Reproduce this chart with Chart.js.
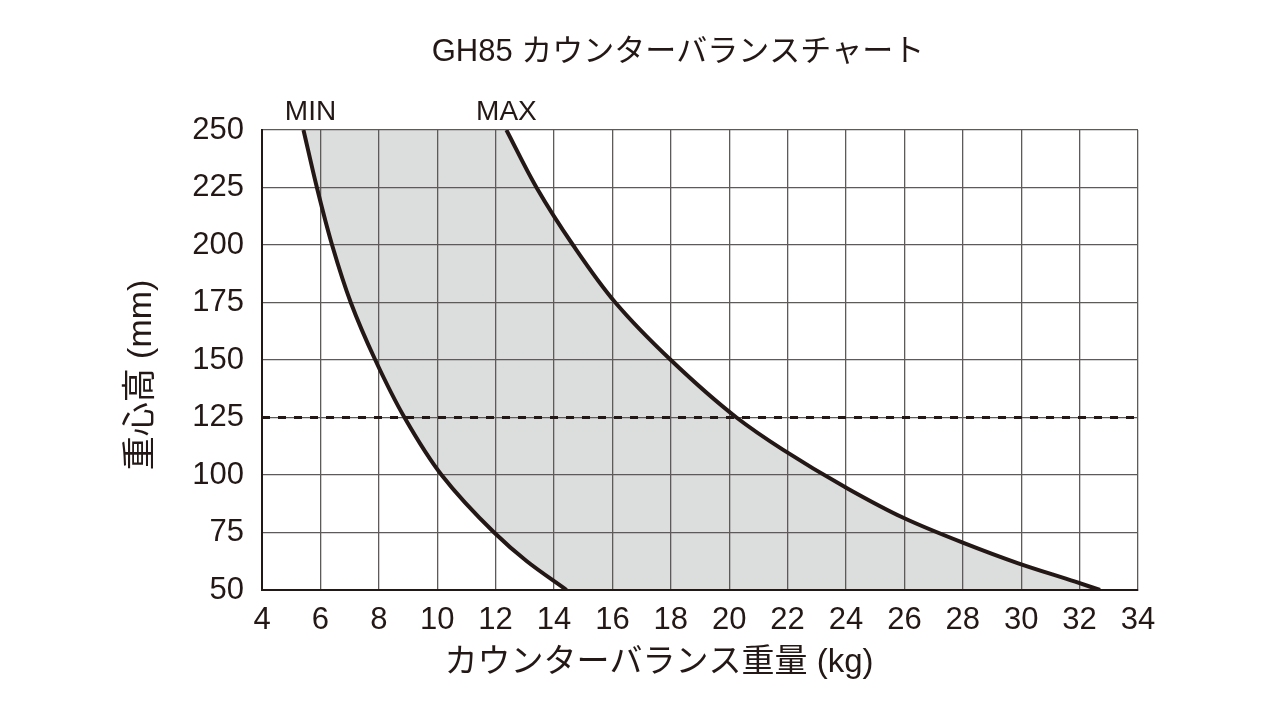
<!DOCTYPE html>
<html lang="ja">
<head>
<meta charset="utf-8">
<title>GH85 カウンターバランスチャート</title>
<script src="https://cdn.jsdelivr.net/npm/chart.js@4.4.1/dist/chart.umd.min.js"></script>
<style>
  html, body { margin: 0; background: #fff; }
  #wrap { width: 1280px; height: 717px; position: relative; }
</style>
</head>
<body>
<div id="wrap"><canvas id="myChart"></canvas></div>
<script>
const chartTitle = "GH85 カウンターバランスチャート";
const xTitle = "カウンターバランス重量 (kg)";
const yTitle = "重心高 (mm)";
const curveLabels = ["MIN", "MAX"];

const kgTicks = [4, 6, 8, 10, 12, 14, 16, 18, 20, 22, 24, 26, 28, 30, 32, 34];
const heightTicks = [50, 75, 100, 125, 150, 175, 200, 225, 250];

// MIN curve: weight (kg) at each height (mm)
const minHeights = [50, 62.5, 75, 100, 125, 150, 175, 200, 225, 250];
const minWeights = [14.43, 13.07, 11.95, 10.15, 8.88, 7.88, 7.04, 6.4, 5.88, 5.42];

// MAX curve
const maxHeights = [50, 53.6, 61.6, 70.6, 81.2, 94.9, 110.9, 125, 150, 175, 200, 225, 250];
const maxWeights = [32.7, 31.85, 29.9, 28, 26, 23.95, 21.85, 20.25, 18, 16.1, 14.65, 13.4, 12.37];

const refHeight = 125;

const ink = "#231815";
const font = '"Liberation Sans", "Noto Sans CJK JP", sans-serif';

function points(heights, weights) {
  return heights.map((h, i) => ({ x: weights[i], y: h }));
}

const textPlugin = {
  id: "chartText",
  afterDraw(chart, args, opts) {
    const { ctx, chartArea, scales } = chart;
    const cx = (chartArea.left + chartArea.right) / 2;
    const cy = (chartArea.top + chartArea.bottom) / 2;
    ctx.save();
    ctx.fillStyle = ink;
    ctx.textAlign = "center";
    ctx.textBaseline = "alphabetic";

    ctx.font = "31px " + font;
    ctx.fillText(chartTitle, cx - 22, 61);

    ctx.font = "33px " + font;
    ctx.fillText(xTitle, cx - 41, chartArea.bottom + 82);

    ctx.save();
    ctx.translate(142, cy + 15);
    ctx.rotate(-Math.PI / 2);
    ctx.textBaseline = "middle";
    ctx.font = "34px " + font;
    ctx.fillText(yTitle, 0, 0);
    ctx.restore();

    ctx.font = "28px " + font;
    [minWeights, maxWeights].forEach((w, i) => {
      const px = scales.x.getPixelForValue(w[w.length - 1]) + opts.offsets[i];
      ctx.fillText(curveLabels[i], px, chartArea.top - 10);
    });
    ctx.restore();
  },
};

const ctx = document.getElementById("myChart").getContext("2d");

const myChart = new Chart(ctx, {
  type: "line",
  data: {
    datasets: [
      {
        label: curveLabels[0],
        data: points(minHeights, minWeights),
        borderColor: ink,
        borderWidth: 4,
        backgroundColor: "#dcdddd",
        fill: "+1",
        cubicInterpolationMode: "monotone",
        pointRadius: 0,
      },
      {
        label: curveLabels[1],
        data: points(maxHeights, maxWeights),
        borderColor: ink,
        borderWidth: 4,
        fill: false,
        cubicInterpolationMode: "monotone",
        pointRadius: 0,
      },
      {
        label: "ref",
        data: [
          { x: kgTicks[0], y: refHeight },
          { x: kgTicks[kgTicks.length - 1], y: refHeight },
        ],
        borderColor: ink,
        borderWidth: 3,
        borderDash: [8, 8],
        tension: 0,
        fill: false,
        pointRadius: 0,
      },
    ],
  },
  options: {
    indexAxis: "y",
    responsive: true,
    maintainAspectRatio: false,
    animation: false,
    layout: { padding: { top: 130, right: 142, left: 0, bottom: 0 } },
    plugins: {
      legend: { display: false },
      tooltip: { enabled: false },
      filler: { propagate: false, drawTime: "beforeDraw" },
      chartText: { offsets: [7, 0] },
    },
    scales: {
      x: {
        type: "linear",
        min: kgTicks[0],
        max: kgTicks[kgTicks.length - 1],
        afterBuildTicks: (s) => { s.ticks = kgTicks.map((v) => ({ value: v })); },
        afterFit: (s) => { s.height = 127; },
        grid: { color: "#5e5a5a", lineWidth: 1.3, drawTicks: false },
        border: { color: ink, width: 2 },
        ticks: { color: ink, font: { family: font, size: 31 }, padding: 12, maxRotation: 0, autoSkip: false },
      },
      y: {
        type: "linear",
        min: heightTicks[0],
        max: heightTicks[heightTicks.length - 1],
        afterBuildTicks: (s) => { s.ticks = heightTicks.map((v) => ({ value: v })); },
        afterFit: (s) => { s.width = 262; },
        grid: { color: "#5e5a5a", lineWidth: 1.3, drawTicks: false },
        border: { color: ink, width: 2 },
        ticks: { color: ink, font: { family: font, size: 31 }, padding: 18, autoSkip: false },
      },
    },
  },
  plugins: [textPlugin],
});
</script>
</body>
</html>
